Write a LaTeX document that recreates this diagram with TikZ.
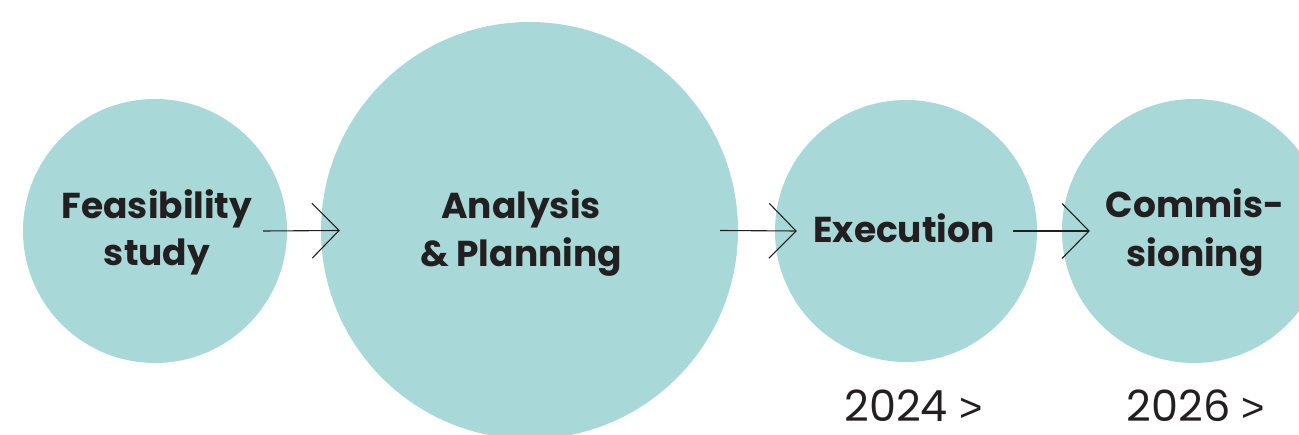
\documentclass[tikz,border=0pt]{standalone}
\usepackage{fontspec}
\setmainfont{Poppins}
\newfontfamily\gtfont{Liberation Sans}
\usetikzlibrary{arrows.meta}
\definecolor{teal}{HTML}{A8D9D8}
\definecolor{ink}{HTML}{231F20}
\tikzset{
  bubble/.style={circle, fill=teal, draw=none, inner sep=0pt},
  lbl/.style={anchor=base, text=ink, inner sep=0pt, font=\fontsize{36}{40}\selectfont\bfseries},
  yr/.style={anchor=base, text=ink, inner sep=0pt, font=\fontsize{43}{46}\selectfont},
  flow/.style={draw=ink, line width=1.1pt, -{Straight Barb[length=27pt,width=55pt,line width=1.1pt]}}
}
\newcommand{\yrgt}{{\gtfont\fontsize{40}{44}\selectfont >}}
\begin{document}
\begin{tikzpicture}[x=1pt,y=-1pt]
\useasboundingbox (0,0) rectangle (1299,435);
\clip (0,0) rectangle (1299,435);
\node[bubble, minimum size=264pt] (c1) at (155,231) {};
\node[bubble, minimum size=417pt] (c2) at (529.5,230.5) {};
\node[bubble, minimum size=262pt] (c3) at (906,231) {};
\node[bubble, minimum size=264pt] (c4) at (1194,231) {};
\draw[flow] ([xshift=-24pt]c1.east) -- ([xshift=19pt]c2.west);
\draw[flow] ([xshift=-18pt]c2.east) -- ([xshift=22pt]c3.west);
\draw[flow] ([xshift=-24pt]c3.east) -- ([xshift=28pt]c4.west);
\node[lbl] (t1a) at (157,219) {Feasibility};
\node[lbl] (t1b) at (157,266) {study};
\node[lbl] (t2a) at (521,219) {Analysis};
\node[lbl] (t2b) at (521,267) {\& Planning};
\node[lbl] (t3) at (904,243) {Execution};
\node[lbl] (t4a) at (1195,218) {Commis-};
\node[lbl] (t4b) at (1195,267) {sioning};
\node[yr] (y1) at (913.5,422) {2024 \yrgt};
\node[yr] (y2) at (1196,422) {2026 \yrgt};
\end{tikzpicture}
\end{document}
